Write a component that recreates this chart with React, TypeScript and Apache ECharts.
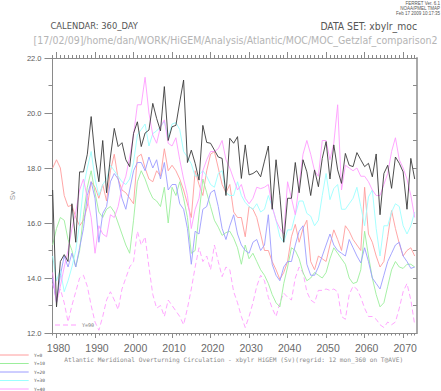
import React, { useEffect, useRef } from "react";
import * as echarts from "echarts";

const years = [
  1979, 1980, 1981, 1982, 1983, 1984, 1985, 1986, 1987, 1988, 1989, 1990, 1991, 1992, 1993, 1994,
  1995, 1996, 1997, 1998, 1999, 2000, 2001, 2002, 2003, 2004, 2005, 2006, 2007, 2008, 2009, 2010,
  2011, 2012, 2013, 2014, 2015, 2016, 2017, 2018, 2019, 2020, 2021, 2022, 2023, 2024, 2025, 2026,
  2027, 2028, 2029, 2030, 2031, 2032, 2033, 2034, 2035, 2036, 2037, 2038, 2039, 2040, 2041, 2042,
  2043, 2044, 2045, 2046, 2047, 2048, 2049, 2050, 2051, 2052, 2053, 2054, 2055, 2056, 2057, 2058,
  2059, 2060, 2061, 2062, 2063, 2064, 2065, 2066, 2067, 2068, 2069, 2070, 2071, 2072, 2073,
];

const decadeTicks = [1980, 1990, 2000, 2010, 2020, 2030, 2040, 2050, 2060, 2070];

// black (unlabelled) series
const blackSeries = [
  17.2, 12.95, 14.6, 14.85, 14.6, 16.7, 15.3, 17.86, 17.86, 18.5, 19.87, 18.4, 17.5, 19.0, 17.1, 18.4,
  19.44, 18.78, 18.92, 18.3, 18.05, 19.26, 19.68, 18.78, 19.27, 19.38, 20.35, 19.8, 19.35, 20.96, 19.0, 19.5,
  19.55, 20.4, 21.2, 18.2, 18.65, 18.17, 17.56, 19.55, 18.93, 18.9, 18.65, 18.4, 18.35, 17.0, 19.08, 18.9,
  19.14, 17.62, 18.84, 17.75, 17.8, 17.9, 17.68, 18.25, 18.8, 16.5, 18.3, 17.0, 15.3, 16.9, 16.9, 18.2,
  17.1, 18.3, 17.86, 17.0, 17.93, 17.32, 18.35, 18.96, 17.6, 18.84, 17.93, 17.44, 18.53, 18.1, 18.05, 18.56,
  18.3, 18.05, 18.17, 17.68, 18.51, 16.3, 17.8, 18.1, 17.26, 18.4, 18.17, 17.86, 16.5, 18.35, 17.6,
];

// Y=0
const y0Series = [
  18.0, 18.3, 18.0, 17.0, 16.6, 16.65, 16.2, 15.9, 16.1, 16.6, 17.5, 17.3, 16.9, 17.4, 16.8, 17.9,
  18.5, 17.6, 17.2, 17.1, 16.9, 16.7, 18.4, 18.5, 18.0, 17.6, 17.5, 17.9, 17.7, 18.7, 17.9, 18.1,
  17.9, 17.6, 17.2, 16.7, 16.2, 17.9, 17.4, 17.0, 17.9, 18.5, 18.6, 18.0, 17.4, 17.1, 17.4, 16.4,
  16.2, 16.2, 15.5, 16.6, 16.5, 16.2, 15.6, 15.0, 15.0, 14.6, 14.3, 13.95, 14.2, 14.6, 15.5, 15.95,
  15.3, 15.8, 16.1, 14.6, 14.3, 14.8, 14.7, 14.6, 15.2, 15.75, 15.4, 15.0, 15.9, 15.7, 15.4, 15.2,
  15.0, 17.3, 15.6, 15.3, 14.8, 14.4, 14.6, 15.5, 16.45, 15.8, 15.25, 14.8, 15.0, 15.1, 14.8,
];

// Y=10
const y10Series = [
  15.2, 15.8, 16.2, 16.1, 15.4, 15.0, 14.4, 15.0, 16.3, 17.3, 17.9, 17.1, 16.4, 16.2, 16.5, 16.6,
  16.4, 16.0, 15.6, 15.2, 14.9, 16.1, 17.5, 17.9, 17.6, 17.2, 16.9, 16.8, 16.6, 17.3, 16.0, 17.3,
  17.0, 17.5, 16.9, 16.2, 14.9, 15.0, 16.3, 17.6, 17.1, 16.6, 16.1, 15.85, 15.55, 15.65, 15.7, 15.45,
  15.1, 14.5, 15.2, 14.7, 14.9, 14.6, 14.3, 14.1, 13.8, 13.4, 13.1, 12.95, 13.8, 14.4, 15.1, 15.0,
  14.7, 14.2, 13.9, 14.0, 14.2, 14.1, 14.0, 14.2, 14.7, 15.1, 14.9, 14.7, 14.5, 14.0, 13.8, 13.85,
  14.3, 15.7, 14.8, 14.0, 13.4, 12.95, 13.1, 13.7, 14.3, 14.6, 14.4, 14.35, 14.5, 14.5, 14.4,
];

// Y=20
const y20Series = [
  14.0, 13.1, 14.1, 14.8, 14.4, 14.9, 14.4, 15.1, 15.8, 17.0, 17.5, 16.9, 15.3, 16.35, 16.6, 17.5,
  17.8, 17.6, 16.9, 16.5, 17.2, 17.9, 18.2, 18.2, 17.9, 18.4, 18.0, 18.3, 17.6, 18.2, 17.2, 17.4,
  17.4, 16.7, 16.5, 15.8, 14.5, 15.7, 15.6, 16.5, 16.6, 17.1, 17.2, 16.6, 15.8, 15.4, 15.9, 16.3,
  15.6, 15.2, 15.0, 14.9, 15.3, 15.4, 15.0, 15.2, 16.3, 14.5, 14.1, 13.9, 14.4, 14.6, 14.6, 15.2,
  15.7, 15.9, 14.5, 14.1, 14.1, 14.4, 14.8, 15.2, 15.6, 15.2, 15.0, 14.9, 14.8, 15.4, 15.1, 14.8,
  14.55, 15.1, 14.6, 14.0, 13.8, 13.6, 14.1, 14.6, 14.9, 15.2, 15.3, 14.8, 14.6, 14.35, 14.4,
];

// Y=30
const y30Series = [
  14.8, 13.9, 14.3, 13.5, 13.9, 14.4, 15.0, 16.0, 17.3, 18.0, 18.6, 17.6, 17.0, 17.4, 17.6, 18.1,
  17.9, 17.7, 17.5, 17.4, 17.6, 18.2, 19.2, 19.4, 19.6, 18.8, 19.25, 19.35, 19.5, 19.7, 19.1, 19.6,
  19.65, 19.4, 18.6, 18.4, 18.15, 17.7, 17.75, 17.9, 17.7, 17.4, 17.3, 17.8, 17.9, 17.1, 17.0, 17.0,
  17.5, 17.0, 16.75, 16.6, 16.5, 16.7, 16.4, 16.5, 17.0, 16.6, 16.1, 15.5, 15.3, 15.75, 15.75, 16.3,
  16.8, 16.8, 16.35, 16.25, 15.9, 16.1, 17.0, 17.8, 16.85, 17.25, 17.4, 16.5, 16.5, 16.7, 16.9, 17.3,
  16.6, 15.9, 16.95, 17.2, 15.8, 14.8, 15.9, 15.9, 16.4, 16.7, 16.6, 15.9, 15.6, 15.9, 16.4,
];

// Y=40
const y40Series = [
  14.2, 13.1, 13.7, 14.4, 15.0, 15.8, 16.4, 17.2, 17.6, 16.9, 16.2, 14.9, 15.9, 15.6, 15.5, 16.3,
  16.2, 16.6, 17.3, 17.7, 18.4, 19.2, 20.3, 20.3, 21.3, 20.0, 19.2, 18.9, 19.5, 19.75, 18.9, 18.8,
  19.1, 18.3, 17.6, 17.0, 15.8, 16.5, 16.9, 17.9, 18.3, 18.6, 18.6, 18.7, 19.0, 18.3, 18.0, 17.6,
  17.2, 17.4, 16.9, 16.7, 16.9, 17.3, 17.25, 17.3, 17.4, 16.6, 16.1, 15.8, 15.6, 17.5, 16.9, 16.3,
  17.4, 18.5, 19.0, 18.5, 17.9, 17.7, 19.0, 19.0, 18.3, 18.9, 20.3, 17.2, 18.1, 18.0, 17.9, 18.0,
  17.7, 17.7, 17.5, 17.2, 17.0, 17.0, 17.4, 17.8, 18.6, 19.1, 18.3, 18.0, 17.6, 17.0, 16.2,
];

// Y=90 (dashed)
const y90Series = [
  13.8, 13.2, 13.6, 13.1, 12.4, 13.0, 13.5, 14.0, 14.1, 13.7, 13.0, 12.4, 12.1, 12.6, 13.2, 13.5,
  13.2, 12.85, 13.6, 14.0, 14.4, 14.6, 15.7, 15.2, 15.5, 14.4, 13.4, 12.9, 13.0, 12.6, 13.2, 13.0,
  12.8, 12.6, 12.3, 12.9, 13.6, 14.4, 15.1, 14.6, 14.8, 14.3, 15.2, 14.6, 14.05, 14.4, 14.3, 13.5,
  13.1, 12.6, 12.2, 12.6, 13.1, 13.7, 14.1, 13.9, 13.3, 12.9, 12.6, 13.1, 13.45, 13.3, 13.2, 14.0,
  14.4, 14.2, 13.5, 13.2, 13.1, 13.55, 13.55, 13.6, 13.55, 13.6, 13.5, 12.6, 12.5, 13.4, 13.7, 13.6,
  13.3, 12.9, 12.6, 12.6, 12.5, 12.3, 12.2, 12.4, 12.3, 12.4, 12.9, 13.5, 13.8, 13.2, 12.3,
];

const legendNames = ["Y=0", "Y=10", "Y=20", "Y=30", "Y=40"];
const legendColors = ["#ff9c9c", "#9cee9c", "#9c9cff", "#9cffff", "#ff9cff"];
const dashedName = "Y=90";
const dashedColor = "#ff9cff";
const blackColor = "#3a3a3a";

const headerLeft = "CALENDAR: 360_DAY";
const headerRight = "DATA SET: xbylr_moc";
const pathLine = "[17/02/09]/home/dan/WORK/HiGEM/Analysis/Atlantic/MOC/MOC_Getzlaf_comparison2";
const ferretLines = ["FERRET Ver. 6.1", "NOAA/PMEL TMAP", "Feb 17 2009 10:17:35"];
const bottomTitle =
  "Atlantic Meridional Overturning Circulation - xbylr HiGEM (Sv)(regrid: 12 mon_360 on T@AVE)";
const yUnit = "Sv";

const X_MIN = 1978.96;
const X_MAX = 2073.6;
const AXIS_COLOR = "#8a8a8a";
const NARROW = "'Liberation Sans Narrow', 'DejaVu Sans Condensed', 'Liberation Sans'";

function toPairs(vals: number[]) {
  return years.map((y, i) => [y, vals[i]]);
}

export default function App() {
  const ref = useRef<HTMLDivElement>(null);

  useEffect(() => {
    if (!ref.current) return;
    const chart = echarts.init(ref.current, undefined, { renderer: "svg" });

    const colored = [y0Series, y10Series, y20Series, y30Series, y40Series];
    const series: any[] = [];
    series.push({
      name: dashedName,
      type: "line",
      data: toPairs(y90Series),
      showSymbol: false,
      symbol: "none",
      lineStyle: { color: dashedColor, width: 0.9, type: [5, 3] },
      xAxisIndex: 0,
      yAxisIndex: 0,
    });
    colored.forEach((vals, i) => {
      series.push({
        name: legendNames[i],
        type: "line",
        data: toPairs(vals),
        showSymbol: false,
        symbol: "none",
        lineStyle: { color: legendColors[i], width: 0.9 },
        xAxisIndex: 0,
        yAxisIndex: 0,
      });
    });
    series.push({
      name: "black",
      type: "line",
      data: toPairs(blackSeries),
      showSymbol: false,
      symbol: "none",
      lineStyle: { color: blackColor, width: 0.9 },
      xAxisIndex: 0,
      yAxisIndex: 0,
    });

    const grid = { left: 51, right: 24, top: 58, bottom: 58 };

    const xBase = {
      type: "value",
      min: X_MIN,
      max: X_MAX,
      splitLine: { show: false },
    };

    const graphic: any[] = [];
    graphic.push({
      type: "text",
      left: 50.5,
      top: 21,
      style: { text: headerLeft, font: `9.3px ${NARROW}`, fill: "#555" },
    });
    graphic.push({
      type: "text",
      right: 24,
      top: 21,
      style: { text: headerRight, font: `10.3px ${NARROW}`, fill: "#555" },
    });
    graphic.push({
      type: "text",
      x: 235.5,
      y: 40,
      style: {
        text: pathLine,
        font: `10.5px ${NARROW}`,
        fill: "#b4b4b4",
        align: "center",
        verticalAlign: "middle",
      },
    });
    ferretLines.forEach((t, i) => {
      graphic.push({
        type: "text",
        x: 440,
        y: 3.5 + i * 5,
        style: { text: t, font: "4.5px 'Liberation Sans'", fill: "#555", align: "right", verticalAlign: "middle" },
      });
    });
    graphic.push({
      type: "text",
      x: 233.7,
      y: 359,
      style: {
        text: bottomTitle,
        font: "6.2px 'DejaVu Sans Mono'",
        fill: "#8a8a8a",
        align: "center",
        verticalAlign: "middle",
      },
    });
    legendNames.forEach((n, i) => {
      const y = 355 + i * 8.5;
      graphic.push({
        type: "line",
        shape: { x1: 0, y1: y, x2: 28.7, y2: y },
        style: { stroke: legendColors[i], lineWidth: 1 },
      });
      graphic.push({
        type: "text",
        x: 34,
        y: y,
        style: { text: n, font: "4.5px 'DejaVu Sans Mono'", fill: "#555", verticalAlign: "middle" },
      });
    });
    graphic.push({
      type: "line",
      shape: { x1: 55, y1: 325, x2: 77, y2: 325 },
      style: { stroke: dashedColor, lineWidth: 1, lineDash: [5, 3] },
    });
    graphic.push({
      type: "text",
      x: 82,
      y: 325,
      style: { text: dashedName, font: "5px 'DejaVu Sans Mono'", fill: "#777", verticalAlign: "middle" },
    });

    const option: any = {
      animation: false,
      backgroundColor: "#ffffff",
      grid,
      xAxis: [
        {
          ...xBase,
          position: "bottom",
          axisLine: { show: true, lineStyle: { color: AXIS_COLOR, width: 1 } },
          axisTick: { show: true, length: 5, customValues: decadeTicks, lineStyle: { color: AXIS_COLOR } },
          axisLabel: {
            show: true,
            customValues: decadeTicks,
            formatter: (v: number) => String(Math.round(v)),
            fontSize: 10.5,
            fontFamily: "'Liberation Sans'",
            color: "#6a6a6a",
            margin: 9,
            padding: [0, 0, 0, 4],
          },
        },
        {
          ...xBase,
          position: "bottom",
          axisLine: { show: false },
          axisTick: { show: true, length: 2.5, customValues: years, lineStyle: { color: AXIS_COLOR } },
          axisLabel: { show: false },
        },
        {
          ...xBase,
          position: "top",
          axisLine: { show: true, lineStyle: { color: AXIS_COLOR, width: 1 } },
          axisTick: { show: true, length: 6, customValues: decadeTicks, lineStyle: { color: AXIS_COLOR } },
          axisLabel: { show: false },
        },
        {
          ...xBase,
          position: "top",
          axisLine: { show: false },
          axisTick: { show: true, length: 3, customValues: years, lineStyle: { color: AXIS_COLOR } },
          axisLabel: { show: false },
        },
      ],
      yAxis: [
        {
          type: "value",
          position: "left",
          min: 12,
          max: 22,
          interval: 2,
          splitLine: { show: false },
          axisLine: { show: true, lineStyle: { color: AXIS_COLOR, width: 1 } },
          axisTick: { show: true, length: 8, lineStyle: { color: AXIS_COLOR } },
          axisLabel: {
            formatter: (v: number) => v.toFixed(1),
            fontSize: 7.5,
            fontFamily: "'Liberation Sans'",
            color: "#5a5a5a",
            margin: 11,
          },
          name: yUnit,
          nameLocation: "middle",
          nameGap: 28,
          nameRotate: 90,
          nameTextStyle: { fontSize: 8, color: "#9a9a9a", fontFamily: "'Liberation Sans'" },
        },
        {
          type: "value",
          position: "left",
          min: 12,
          max: 22,
          interval: 1,
          splitLine: { show: false },
          axisLine: { show: false },
          axisTick: { show: true, length: 4, lineStyle: { color: AXIS_COLOR } },
          axisLabel: { show: false },
        },
        {
          type: "value",
          position: "right",
          min: 12,
          max: 22,
          interval: 1,
          splitLine: { show: false },
          axisLine: { show: true, lineStyle: { color: "#aaaaaa", width: 2 } },
          axisTick: { show: true, inside: true, length: 4, lineStyle: { color: AXIS_COLOR } },
          axisLabel: { show: false },
        },
      ],
      series,
      graphic,
    };

    chart.setOption(option);
    return () => {
      chart.dispose();
    };
  }, []);

  return (
    <div
      ref={ref}
      style={{ position: "fixed", left: 0, top: 0, width: 441, height: 391, background: "#fff" }}
    />
  );
}
